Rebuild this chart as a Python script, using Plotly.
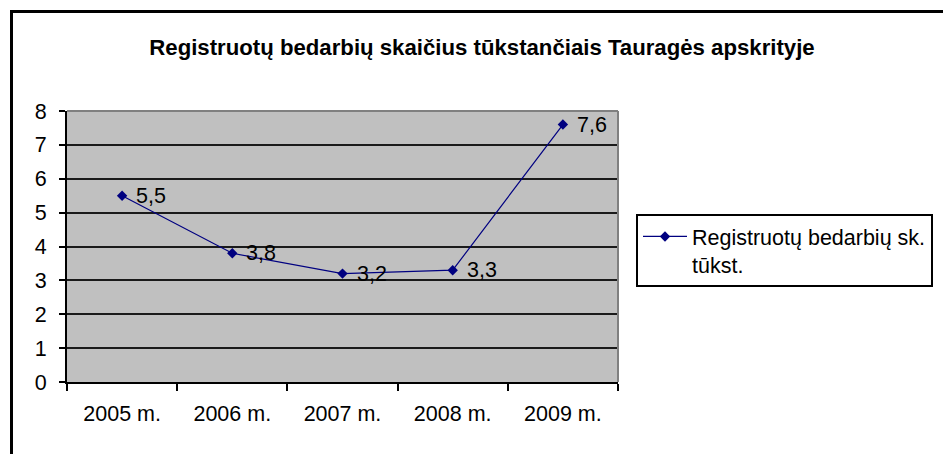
import plotly.graph_objects as go

title_text = "Registruotų bedarbių skaičius tūkstančiais Tauragės apskrityje"
series_name = "Registruotų bedarbių sk.<br>tūkst."
categories = ["2005 m.", "2006 m.", "2007 m.", "2008 m.", "2009 m."]
values = [5.5, 3.8, 3.2, 3.3, 7.6]
y_ticks = [0, 1, 2, 3, 4, 5, 6, 7, 8]

FONT = "Liberation Sans, Arial, sans-serif"

fig = go.Figure()
fig.add_trace(go.Scatter(
    x=categories, y=values, name=series_name,
    mode="lines+markers",
    line=dict(color="#000080", width=1.2),
    marker=dict(symbol="diamond", size=8, color="#000080"),
    cliponaxis=False,
))

for c, v in zip(categories, values):
    fig.add_annotation(x=c, y=v, text=f"{v:.1f}".replace(".", ","),
                       showarrow=False, xanchor="left", yanchor="middle",
                       xshift=12, font=dict(family=FONT, size=21.5, color="#000000"))

L, R, T, B = 67, 325, 111, 72
W, H = 943, 454
pw, ph = W - L - R, H - T - B
def px(x): return (x - L) / pw
def py(y): return (H - B - y) / ph

fig.update_layout(
    width=W, height=H,
    margin=dict(l=L, r=R, t=T, b=B, autoexpand=False),
    paper_bgcolor="white", plot_bgcolor="#C0C0C0",
    font=dict(family=FONT, size=21.5, color="#000000"),
    title=dict(text="<b>" + title_text + "</b>", x=482 / W, xanchor="center",
               y=1 - 47 / H, yanchor="middle", yref="container",
               font=dict(family=FONT, size=22.2, color="#000000")),
    showlegend=True,
    legend=dict(x=px(636), y=py(214), xanchor="left", yanchor="top",
                bgcolor="white", bordercolor="#000000", borderwidth=2,
                font=dict(family=FONT, size=21.5, color="#000000"),
                valign="top", itemwidth=44),
    xaxis=dict(type="category", range=[-0.5, len(categories) - 0.5],
               showgrid=False, showline=True, linecolor="#000000",
               linewidth=2, ticks="outside", ticklen=7, tickwidth=2, tickcolor="#000000",
               tickson="boundaries", ticklabelstandoff=11, mirror=False,
               tickfont=dict(family=FONT, size=21.5, color="#000000")),
    yaxis=dict(range=[0, 8], tickvals=y_ticks, showgrid=True, gridcolor="#1a1a1a",
               gridwidth=2, showline=True, linecolor="#000000", linewidth=2,
               ticks="outside", ticklen=6, tickwidth=2, tickcolor="#000000",
               zeroline=False, ticklabelstandoff=8,
               tickfont=dict(family=FONT, size=21.5, color="#000000")),
    shapes=[
        dict(type="line", xref="paper", yref="paper", x0=0, x1=1, y0=1, y1=1,
             line=dict(color="#808080", width=2), layer="above"),
        dict(type="line", xref="paper", yref="paper", x0=1, x1=1, y0=0, y1=1,
             line=dict(color="#808080", width=2), layer="above"),
        dict(type="rect", xref="paper", yref="paper", x0=px(11.5), x1=px(990),
             y0=py(500), y1=py(11.5), line=dict(color="#000000", width=3),
             fillcolor="rgba(0,0,0,0)", layer="above"),
    ],
)

fig.write_html("out.html", config={"displayModeBar": False},
               post_script="document.body.style.margin='0';document.body.style.overflow='hidden';")
